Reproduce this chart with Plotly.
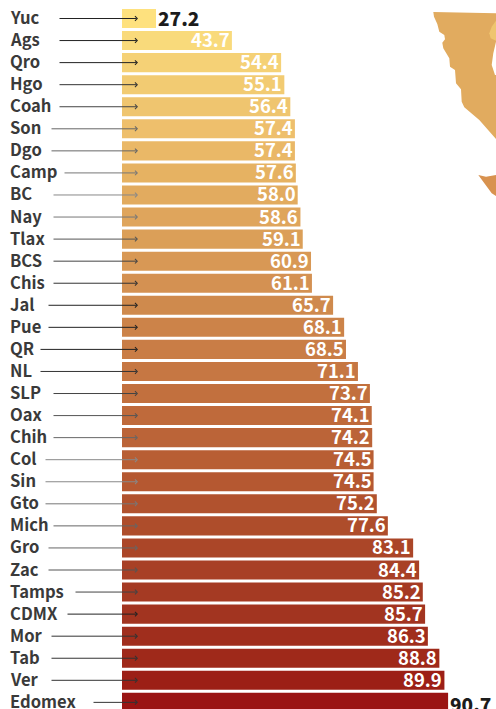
import plotly.graph_objects as go

states = ["Yuc","Ags","Qro","Hgo","Coah","Son","Dgo","Camp","BC","Nay","Tlax","BCS","Chis","Jal","Pue","QR","NL","SLP","Oax","Chih","Col","Sin","Gto","Mich","Gro","Zac","Tamps","CDMX","Mor","Tab","Ver","Edomex"]
values = [27.2,43.7,54.4,55.1,56.4,57.4,57.4,57.6,58.0,58.6,59.1,60.9,61.1,65.7,68.1,68.5,71.1,73.7,74.1,74.2,74.5,74.5,75.2,77.6,83.1,84.4,85.2,85.7,86.3,88.8,89.9,90.7]
bar_colors = ["#FEE17E","#F9DA7B","#F5D176","#F2CB72","#EFC56F","#EEBF6C","#EAB867","#E6B262","#E2AB5F","#DFA55C","#DB9F58","#D89855","#D49152","#CF8A4D","#CC8349","#C97D46","#C67743","#C2703E","#BF6A3B","#BB6438","#B85E34","#B55831","#B1522E","#AE4D2B","#AB4628","#A84026","#A53A23","#A23420","#A02E1D","#9F291A","#9C1F16","#9A1413"]
arrow_starts = [58,58,58,58,58,50,50,63,52,52,52,52,52,47,47,39,39,52,52,52,44,44,44,52,47,47,74,66,50,50,50,92]
arrow_colors = ["#222222","#222222","#222222","#333333","#444444","#666666","#666666","#777777","#888888","#777777","#555555","#444444","#333333","#222222","#222222","#222222","#333333","#444444","#555555","#666666","#888888","#888888","#777777","#666666","#666666","#555555","#444444","#222222","#333333","#333333","#333333","#333333"]
outside_labels = ["Yuc","Edomex"]

map_main_x = [433.3,434,437.3,439.3,444.3,445,442.3,443.3,449.3,450,455,456,461,461.7,464.3,479.3,496,496,495,491.7,493.3,496,496]
map_main_y = [12,16.7,24,31.7,35,39.3,42.7,48.3,58.3,66.7,70,83.3,89.3,101.7,107.3,120,139,75,75,65,53.3,41.7,13.3]
map_blob_x = [496,491.7,489.3,490.7,496]
map_blob_y = [20.7,26.7,33.3,38.3,40.7]
map_low_x = [478.3,486,496,496,491.7]
map_low_y = [175,176.7,175,196,193.3]

FONT = "Noto Sans CJK SC, Noto Sans, sans-serif"
BAR_LEFT_PX, PX_PER_UNIT = 122, 4.6
ROW_PITCH_PX, FIRST_ROW_PX = 22.06, 18.5
x_min = 27.2 - 34 / PX_PER_UNIT
x_max = x_min + (496 - BAR_LEFT_PX) / PX_PER_UNIT

fig = go.Figure()
fig.add_trace(go.Bar(
    x=values, y=states, orientation="h",
    marker=dict(color=bar_colors, line_width=0),
    hoverinfo="skip",
))
for xs, ys, c in [(map_main_x, map_main_y, "#E1AB5F"), (map_blob_x, map_blob_y, "#EFC56F"), (map_low_x, map_low_y, "#D8924F")]:
    fig.add_trace(go.Scatter(
        x=xs, y=ys, xaxis="x2", yaxis="y2", mode="lines", fill="toself",
        fillcolor=c, line=dict(width=0, color=c), hoverinfo="skip",
    ))

ARROW_END_PX = 138
ann = []
for s, v, st, c in zip(states, values, arrow_starts, arrow_colors):
    ann.append(dict(
        x=8, xref="x2", y=s, yref="y", xanchor="left", yanchor="middle", yshift=1.5,
        text=s, showarrow=False,
        font=dict(family=FONT, size=16.6, weight=700, color="#3a3a3a"),
    ))
    ann.append(dict(
        x=ARROW_END_PX, xref="x2", y=s, yref="y", text="",
        showarrow=True, axref="pixel", ayref="pixel", ax=st - ARROW_END_PX, ay=0,
        arrowhead=4, arrowsize=0.9, arrowwidth=1, arrowcolor=c,
    ))
    outside = s in outside_labels
    ann.append(dict(
        x=v, xref="x", y=s, yref="y",
        xanchor="left" if outside else "right", yanchor="middle",
        xshift=0,
        yshift=-1.5 if s == "Edomex" else (1 if outside else 1.5),
        text=f"{v:.1f}", showarrow=False,
        font=dict(family=FONT, size=19 if outside else 18.5, weight=900 if outside else 700,
                  color="#1c1c1c" if outside else "#ffffff"),
    ))

fig.update_layout(
    width=496, height=709,
    margin=dict(l=0, r=0, t=0, b=0, pad=0),
    paper_bgcolor="#ffffff", plot_bgcolor="rgba(0,0,0,0)",
    showlegend=False, bargap=3 / 22,
    xaxis=dict(domain=[122 / 496, 1], range=[x_min, x_max], visible=False),
    yaxis=dict(type="category", categoryorder="array", categoryarray=states,
               range=[(709 - FIRST_ROW_PX) / ROW_PITCH_PX, -FIRST_ROW_PX / ROW_PITCH_PX], visible=False),
    xaxis2=dict(domain=[0, 1], range=[0, 496], visible=False, anchor="y2"),
    yaxis2=dict(domain=[0, 1], range=[709, 0], visible=False, anchor="x2"),
    annotations=ann,
)
fig.write_html("out.html", config={"displayModeBar": False},
               post_script="document.body.style.margin='0';document.body.style.overflow='hidden';")
